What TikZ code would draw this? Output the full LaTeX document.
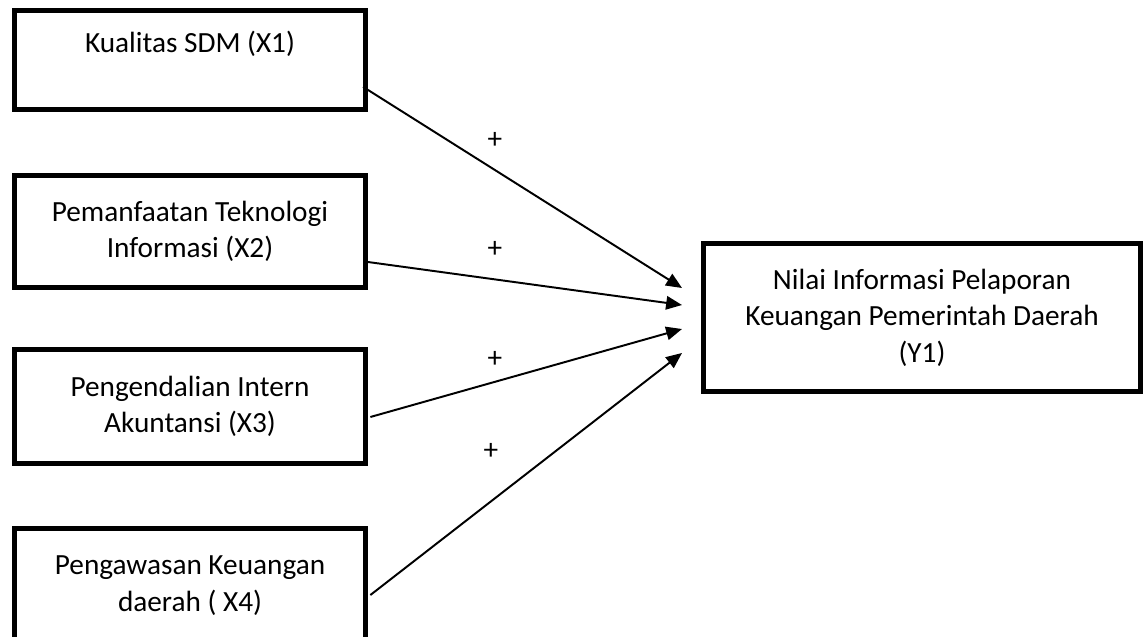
\documentclass[tikz,border=0pt]{standalone}
\usepackage{fontspec}
\setmainfont{Carlito}
\usepackage{tikz}
\usetikzlibrary{positioning,arrows.meta}

\begin{document}
\begin{tikzpicture}[x=0.41pt,y=-0.41pt,
  every node/.style={font=\fontsize{12}{15}\selectfont,align=center},
  box/.style={draw,line width=2pt,minimum width=143.9pt,inner sep=0pt},
  plus/.style={inner sep=0pt},
  >={Triangle[length=6.5pt,width=5.5pt]}]
\useasboundingbox (0,0) rectangle (1144,636);
\node[box,minimum height=40.6pt] (x1) at (190,60) {Kualitas SDM (X1)\\~};
\node[box,minimum height=45.9pt] (x2) at (190,231.5) {Pemanfaatan Teknologi\\Informasi (X2)};
\node[box,minimum height=46.7pt] (x3) at (190,406.5) {Pengendalian Intern\\Akuntansi (X3)};
\node[box,minimum height=46.7pt] (x4) at (190,585.5) {Pengawasan Keuangan\\daerah ( X4)};
\node[box,minimum width=179.4pt,minimum height=60.7pt] (y1) at (922,317.5)
  {Nilai Informasi Pelaporan\\Keuangan Pemerintah Daerah\\(Y1)};
% arrow tips
\coordinate (t1) at (682,288);
\coordinate (t2) at (682,305);
\coordinate (t3) at (682,329);
\coordinate (t4) at (682,353);
\draw[->,line width=0.8pt] ([xshift=-2pt,yshift=-11pt]x1.east) -- (t1);
\draw[->,line width=0.8pt] ([yshift=-12.5pt]x2.east) -- (t2);
\draw[->,line width=0.8pt] ([xshift=1pt,yshift=-4.3pt]x3.east) -- (t3);
\draw[->,line width=0.8pt] ([xshift=1pt,yshift=-3.9pt]x4.east) -- (t4);
\node[plus] (p1) at (495,140) {+};
\node[plus] (p2) at (495,249) {+};
\node[plus] (p3) at (495,359) {+};
\node[plus] (p4) at (491,451) {+};
\end{tikzpicture}
\end{document}
